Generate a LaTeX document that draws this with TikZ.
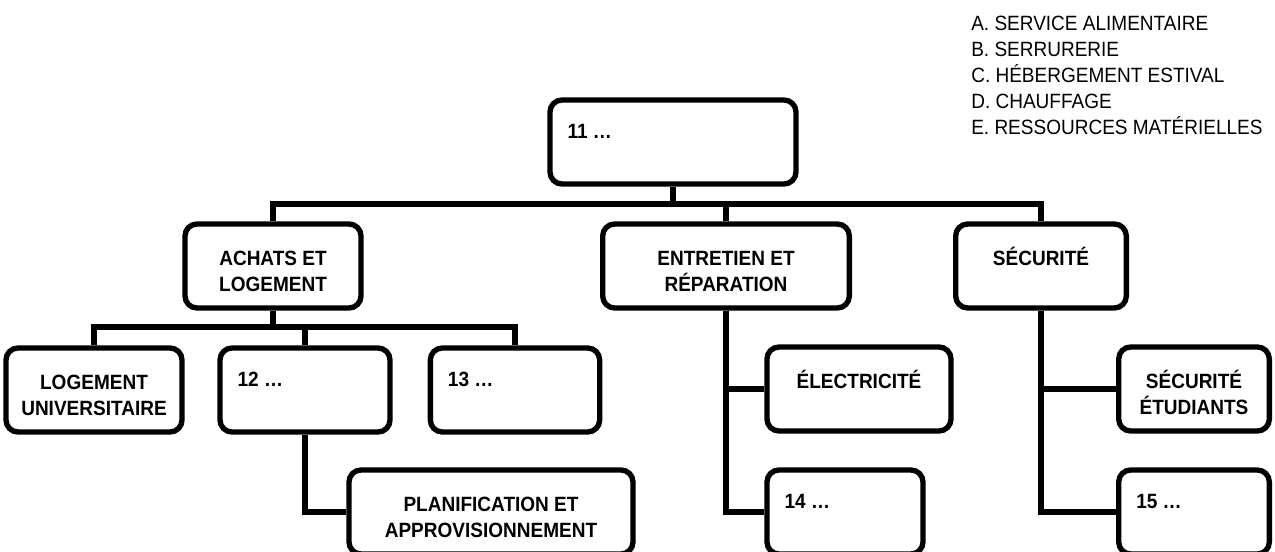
\documentclass[tikz,border=0pt]{standalone}
\usepackage{fontspec}
\setmainfont{Liberation Sans}[FakeStretch=0.92]
\usepackage{tikz}
\usetikzlibrary{positioning}

\tikzset{
  unit/.style={draw, line width=4pt, rounded corners=9pt, minimum height=63pt, inner sep=0pt},
  caption/.style={font=\bfseries, align=center, anchor=north, inner sep=0pt},
  number/.style={font=\bfseries, anchor=west, inner sep=0pt},
  keys/.style={align=left, anchor=north west, inner sep=0pt},
  link/.style={line width=4pt},
}

\begin{document}
\fontsize{15.5pt}{19.5pt}\selectfont
\begin{tikzpicture}[x=0.75pt, y=-0.75pt]
\useasboundingbox (0,0) rectangle (1275,552);

% legend
\node[keys] (legend) at (971,15.6) {A. SERVICE ALIMENTAIRE\\B. SERRURERIE\\C. HÉBERGEMENT ESTIVAL\\D. CHAUFFAGE\\E. RESSOURCES MATÉRIELLES};

% boxes
\node[unit, minimum width=184.5pt] (top) at (673,142) {};
\node[unit, minimum width=132pt] (ach) at (273,266) {};
\node[unit, minimum width=185pt] (ent) at (726,266) {};
\node[unit, minimum width=128pt] (sec) at (1041,266) {};
\node[unit, minimum width=132pt] (loge) at (94,390) {};
\node[unit, minimum width=127.5pt] (n12) at (305,390) {};
\node[unit, minimum width=127pt] (n13) at (515,390) {};
\node[unit, minimum width=138pt] (elec) at (859,389) {};
\node[unit, minimum width=113pt] (secet) at (1194,389) {};
\node[unit, minimum width=213pt] (plan) at (491,512) {};
\node[unit, minimum width=117pt] (n14) at (845,512) {};
\node[unit, minimum width=113pt] (n15) at (1194,512) {};

% texts
\node[number] (top-t) at ([xshift=15pt, yshift=-25.5pt]top.north west) {11 …};
\node[caption] (ach-t) at ([yshift=-19.5pt]ach.north) {\vphantom{É}ACHATS ET\\LOGEMENT};
\node[caption] (ent-t) at ([yshift=-19.5pt]ent.north) {\vphantom{É}ENTRETIEN ET\\RÉPARATION};
\node[caption] (sec-t) at ([yshift=-19.5pt]sec.north) {\vphantom{É}SÉCURITÉ};
\node[caption] (loge-t) at ([yshift=-19.5pt]loge.north) {\vphantom{É}LOGEMENT\\UNIVERSITAIRE};
\node[number] (n12-t) at ([xshift=15pt, yshift=-25.5pt]n12.north west) {12 …};
\node[number] (n13-t) at ([xshift=15pt, yshift=-25.5pt]n13.north west) {13 …};
\node[caption] (elec-t) at ([yshift=-19.5pt]elec.north) {\vphantom{É}ÉLECTRICITÉ};
\node[caption] (secet-t) at ([yshift=-19.5pt]secet.north) {\vphantom{É}SÉCURITÉ\\ÉTUDIANTS};
\node[caption] (plan-t) at ([yshift=-19.5pt]plan.north) {\vphantom{É}PLANIFICATION ET\\APPROVISIONNEMENT};
\node[number] (n14-t) at ([xshift=15pt, yshift=-25.5pt]n14.north west) {14 …};
\node[number] (n15-t) at ([xshift=15pt, yshift=-25.5pt]n15.north west) {15 …};

% connectors
\coordinate (hub) at (673,204);
\coordinate (achhub) at (273,327);
\draw[link] (top.south) -- (hub);
\draw[link] (hub) -| (ach.north);
\draw[link] (hub) -| (ent.north);
\draw[link] (hub) -| (sec.north);
\draw[link] (ach.south) -- (achhub);
\draw[link] (achhub) -| (loge.north);
\draw[link] (achhub) -| (n12.north);
\draw[link] (achhub) -| (n13.north);
\draw[link] (n12.south) |- (plan.west);
\draw[link] (ent.south) |- (elec.west);
\draw[link] (ent.south) |- (n14.west);
\draw[link] (sec.south) |- (secet.west);
\draw[link] (sec.south) |- (n15.west);
\end{tikzpicture}
\end{document}
